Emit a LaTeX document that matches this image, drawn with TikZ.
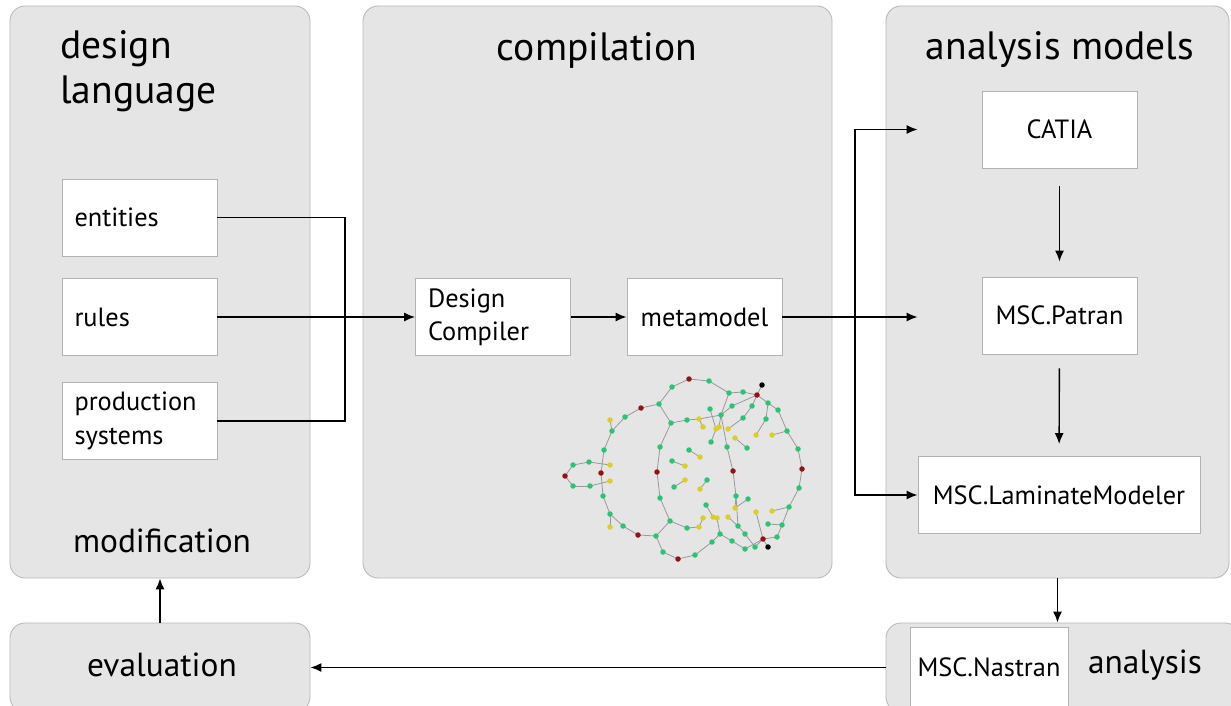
\documentclass[tikz,border=0pt]{standalone}
\usepackage{fontspec}
\setmainfont{PT Sans}
\usetikzlibrary{arrows.meta,fit}
\definecolor{gnode}{RGB}{45,195,115}
\definecolor{ynode}{RGB}{220,205,45}
\definecolor{rnode}{RGB}{145,20,20}

\begin{document}
\begin{tikzpicture}[x=0.02cm,y=-0.02cm,
  >={Latex[length=0.22cm,width=0.18cm]},
  panel/.style={draw=gray!55,fill=gray!20,rounded corners=0.3cm,inner sep=0pt,line width=0.5pt},
  box/.style={draw=gray!60,fill=white,minimum width=3.1cm,minimum height=1.54cm,font=\fontsize{15}{19}\selectfont,line width=0.5pt},
  lbox/.style={box,text width=2.6cm,align=left,inner xsep=0.25cm},
  title/.style={font=\fontsize{22.5}{25.5}\selectfont,inner sep=0pt},
  sub/.style={font=\fontsize{19}{22}\selectfont,inner sep=0pt},
  conn/.style={line width=0.8pt},
  gedge/.style={gray!80,line width=0.45pt}]
  \useasboundingbox (0,0) rectangle (1231,706);

  \node[panel,fit={(10,6) (310,578)}] (design) {};
  \node[panel,fit={(363,6) (832,578)}] (comp) {};
  \node[panel,fit={(886,6) (1229,578)}] (models) {};
  \node[panel,fit={(10,623) (310,712)}] (eval) {};
  \node[panel,fit={(886,623) (1240,712)}] (analysis) {};

  \node[title,anchor=north west,align=left] (designtitle) at (60,30) {design\\language};
  \node[title] (comptitle) at (597,50) {compilation};
  \node[title] (modeltitle) at (1060,50) {analysis models};
  \node[sub] (modif) at (162,541) {modification};
  \node[sub] (evaltext) at (162,665) {evaluation};
  \node[sub] (analysistext) at (1145,665) {analysis};

  \node[lbox] (entities) at (139.5,217.5) {entities};
  \node[lbox] (rules) at (139.5,317) {rules};
  \node[lbox] (prod) at (139.5,421) {production\\systems};
  \node[lbox] (compiler) at (493,317) {Design\\Compiler};
  \node[box] (metamodel) at (704.5,317) {metamodel};
  \node[box] (catia) at (1059.5,129.5) {CATIA};
  \node[box] (patran) at (1059.5,315.5) {MSC.Patran};
  \node[box,minimum width=5.64cm] (laminate) at (1059,495) {MSC.LaminateModeler};
  \node[box,minimum width=3.16cm,minimum height=1.6cm] (nastran) at (989,667) {MSC.Nastran};

  \coordinate (join) at (345,317);
  \coordinate (bus) at (855,317);
  \draw[conn] (entities.east) -| (join) |- (prod.east);
  \draw[conn,->] (rules.east) -- (compiler.west);
  \draw[conn,->] (compiler.east) -- (metamodel.west);
  \draw[conn,->] (metamodel.east) -- (laminate.west |- metamodel.east);
  \draw[conn,->] (bus) |- (laminate.west);
  \draw[conn,->] (bus) |- (laminate.west |- catia.west);
  \draw[conn,->,shorten <=0.36cm,shorten >=0.3cm] (catia) -- (patran);
  \draw[conn,->,shorten <=0.28cm,shorten >=0.24cm] (patran) -- (laminate);
  \draw[conn,->] (models.south) -- (models.south |- analysis.north);
  \draw[conn,->] (analysis.west) -- (eval.east);
  \draw[conn,->] (eval.north) -- (design.south);

  % metamodel graph
  \foreach \n/\p in {a1/{672,387},a2/{689,379},a3/{709,381},a4/{729,393},a5/{743,392},a6/{757,395},
    a7/{762,385},a8/{659,404},a9/{641,408},a10/{625,417},a11/{612,431},a12/{604,450},a13/{601,473},
    a14/{603,496},a15/{610,514},a16/{623,526},a17/{638,535},a18/{656,536},
    b1/{663,552},b2/{678,559},b3/{695,555},b4/{712,542},
    m1/{670,521},m2/{660,498},m3/{657,472},m4/{660,447},m5/{671,423},
    l1/{565,476},l2/{573,465},l3/{589,462},l4/{573,486},l5/{590,486},
    y1/{610,465},y2/{610,481},y3/{610,420},y4/{610,527},
    r1/{768,403},r2/{778,410},r3/{787,431},r4/{798,449},r5/{802,469},r6/{799,488},
    r7/{789,507},r8/{782,525},r9/{777,537},r10/{763,539},r11/{768,547},
    c1/{721,415},c2/{727,447},c3/{733,471},c4/{736,496},c5/{738,526},c6/{745,534},c7/{755,547},
    c8/{732,406},c9/{743,418},c10/{752,406},
    d1/{687,420},d2/{699,419},d3/{703,427},
    e1/{710,409},e2/{716,429},e3/{711,442},e4/{719,427},
    f1/{689,450},f2/{700,457},f3/{672,461},f4/{685,466},f5/{685,480},f6/{674,487},
    f7/{707,480},f8/{700,489},f9/{735,438},f10/{747,448},
    h1/{728,429},h2/{766,419},h3/{756,435},h4/{772,435},
    n1/{687,528},n2/{699,527},n3/{703,518},n4/{706,505},n5/{713,517},n6/{717,518},
    n7/{720,534},n8/{728,517},n9/{732,541},n10/{745,549},n11/{735,508},n12/{748,499},
    n13/{756,512},n14/{772,511},n15/{768,524}}
    \coordinate (\n) at (\p);
  \foreach \u/\v in {a8/a1,a1/a2,a2/a3,a3/a4,a4/a5,a5/a6,a6/a7,
    a8/a9,a9/a10,a10/a11,a11/a12,a12/a13,a13/a14,a14/a15,a15/a16,a16/a17,a17/a18,
    a18/b1,b1/b2,b2/b3,b3/b4,b4/n7,
    a18/m1,m1/m2,m2/m3,m3/m4,m4/m5,m5/a8,m5/d1,d1/d2,d2/c1,d2/d3,
    e1/e2,e2/e3,e4/c1,
    l1/l2,l2/l3,l3/y1,l1/l4,l4/l5,l5/y2,y3/a11,y4/a15,
    a6/r1,r1/r2,r2/r3,r3/r4,r4/r5,r5/r6,r6/r7,r7/r8,r8/r9,r9/r10,r10/r11,
    a4/c1,c1/c2,c2/c3,c3/c4,c4/c5,c5/c6,c6/c7,c7/r10,
    a6/c8,c8/c1,a6/c10,c10/c9,c9/h1,r1/h2,h2/h3,r3/h4,
    f1/f2,f3/f4,f5/f6,f7/f8,f9/f10,
    m1/n1,n1/n2,n2/n3,n4/n5,n5/n6,n6/n7,n7/n9,n9/n10,n10/r10,
    n8/c5,n11/n12,n11/c4,n13/r10,n14/r7,n15/r8}
    \draw[gedge] (\u) -- (\v);
  \foreach \n in {a1,a3,a4,a5,a8,a10,a11,a12,a14,a15,a16,a18,b1,b3,b4,m1,m2,m4,m5,
    l2,l3,l4,l5,r1,r2,r3,r4,r6,r7,r8,r9,c1,c2,c4,c5,c6,c7,c8,c9,c10,d1,e1,e3,
    f1,f3,f6,f7,f10,h2,n1,n4,n7,n9,n10,n12,n15}
    \fill[gnode] (\n) circle (0.055cm);
  \foreach \n in {y1,y2,y3,y4,d2,d3,e2,e4,f2,f4,f5,f8,f9,h1,h3,h4,n2,n3,n5,n6,n8,n11,n13,n14}
    \fill[ynode] (\n) circle (0.055cm);
  \foreach \n in {a2,a6,a9,a13,a17,b2,m3,l1,r5,r10,c3}
    \fill[rnode] (\n) circle (0.055cm);
  \foreach \n in {a7,r11}
    \fill[black] (\n) circle (0.055cm);

\end{tikzpicture}
\end{document}
